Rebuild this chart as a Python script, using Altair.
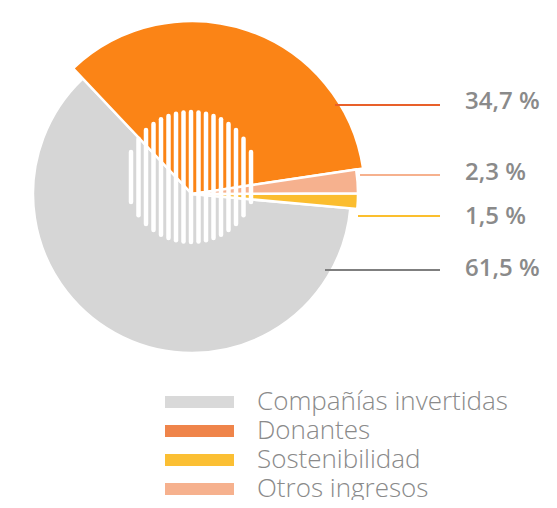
import math
import altair as alt
import pandas as pd

# ---- data ----
categories = ["Compañías invertidas", "Donantes", "Sostenibilidad", "Otros ingresos"]
shares = [61.5, 34.7, 1.5, 2.3]
share_labels = ["61,5 %", "34,7 %", "1,5 %", "2,3 %"]

# ---- styling ----
pie_colors = ["#d6d6d6", "#fb8416", "#fbbd2f", "#f6b18e"]
legend_colors = ["#d9d9d9", "#ef844a", "#fbbf33", "#f6b18e"]
line_colors = ["#7f7f7f", "#e8602a", "#fbbf2e", "#f6b18e"]
slice_order = [2, 3, 1, 0]          # clockwise order starting at START angle
slice_radius = [159, 173, 166, 166]

# ---- layout (svg pixel space) ----
W, H = 541, 492
CX, CY = 184, 186
START = math.radians(81.5)
label_line_y = [262, 97, 208, 167]
label_line_x0 = [317, 327, 350, 352]
LINE_X1 = 432
label_text_y = [261, 94, 209, 165]
TEXT_X = 457
STRIPE_CX, STRIPE_CY, STRIPE_R, STRIPE_STEP = 183, 169, 65, 7.5
LEG_SW_X0, LEG_SW_X1, LEG_TXT_X = 157, 226, 249
LEG_Y_RANGE = [394, 481]
TEXT_COLOR = "#8a8a8a"

pie_df = pd.DataFrame({
    "cat": categories,
    "share": shares,
    "ord": slice_order,
    "r": slice_radius,
})

arc = alt.Chart(pie_df).transform_window(
    cum="sum(share)", sort=[alt.SortField("ord")], frame=[None, 0]
).transform_calculate(
    start="datum.cum - datum.share"
).mark_arc(stroke="white", strokeWidth=2.5).encode(
    theta=alt.Theta("start:Q", stack=None,
                    scale=alt.Scale(domain=[0, 100], range=[START, START + 2 * math.pi])),
    theta2="cum:Q",
    color=alt.Color("cat:N", scale=alt.Scale(domain=categories, range=pie_colors), legend=None),
    radius=alt.Radius("r:Q", scale=None),
    x=alt.value(CX),
    y=alt.value(CY),
)

# decorative striped disc
n = int(STRIPE_R // STRIPE_STEP)
rows = []
for i in range(-n, n + 1):
    dx = i * STRIPE_STEP
    h = math.sqrt(max(STRIPE_R ** 2 - dx ** 2, 0))
    rows.append({"sx": STRIPE_CX + dx, "sy0": STRIPE_CY - h, "sy1": STRIPE_CY + h})
stripes_df = pd.DataFrame(rows)
stripes = alt.Chart(stripes_df).mark_rule(color="white", strokeWidth=4.5, strokeCap="round").encode(
    x=alt.X("sx:Q", scale=None),
    y=alt.Y("sy0:Q", scale=None),
    y2="sy1:Q",
)

lab_df = pd.DataFrame({
    "cat": categories,
    "label": share_labels,
    "ly": label_line_y,
    "lx0": label_line_x0,
    "ty": label_text_y,
})
lab_lines = alt.Chart(lab_df).mark_rule(strokeWidth=2.2).encode(
    x=alt.X("lx0:Q", scale=None),
    x2=alt.value(LINE_X1),
    y=alt.Y("ly:Q", scale=None),
    color=alt.Color("cat:N", scale=alt.Scale(domain=categories, range=line_colors), legend=None),
)
lab_text = alt.Chart(lab_df).mark_text(
    align="left", baseline="middle", font="Open Sans", fontSize=24, fontWeight=600, color=TEXT_COLOR
).encode(
    x=alt.value(TEXT_X),
    y=alt.Y("ty:Q", scale=None),
    text="label:N",
)

leg_df = pd.DataFrame({"cat": categories})
leg_y = alt.Y("cat:N", scale=alt.Scale(type="point", domain=categories, range=LEG_Y_RANGE, padding=0), axis=None)
leg_sw = alt.Chart(leg_df).mark_rule(strokeWidth=12, strokeCap="butt").encode(
    x=alt.value(LEG_SW_X0),
    x2=alt.value(LEG_SW_X1),
    y=leg_y,
    color=alt.Color("cat:N", scale=alt.Scale(domain=categories, range=legend_colors), legend=None),
)
leg_txt = alt.Chart(leg_df).mark_text(
    align="left", baseline="middle", font="Open Sans", fontSize=26, fontWeight=300, color=TEXT_COLOR
).encode(
    x=alt.value(LEG_TXT_X),
    y=leg_y,
    text="cat:N",
)

chart = alt.layer(arc, stripes, lab_lines, lab_text, leg_sw, leg_txt).resolve_scale(
    color="independent", y="independent", x="independent"
).properties(
    width=W, height=H, padding=0, autosize=alt.AutoSizeParams(type="none")
).configure_view(stroke=None)

chart.save("out.html", embed_options={"renderer": "svg", "actions": False})
